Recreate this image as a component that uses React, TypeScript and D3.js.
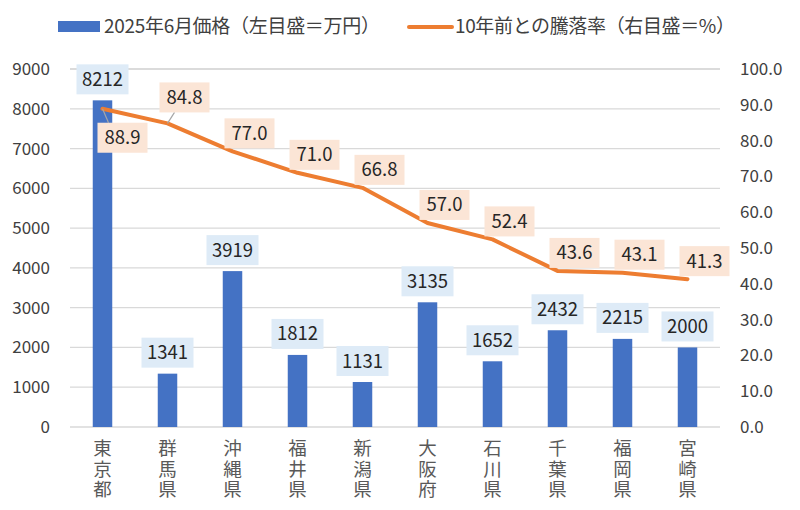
import React from "react";
import * as d3 from "d3";

const prefectures = ["東京都", "群馬県", "沖縄県", "福井県", "新潟県", "大阪府", "石川県", "千葉県", "福岡県", "宮崎県"];
const prices = [8212, 1341, 3919, 1812, 1131, 3135, 1652, 2432, 2215, 2000];
const changeRates = [88.9, 84.8, 77.0, 71.0, 66.8, 57.0, 52.4, 43.6, 43.1, 41.3];
const leftTicks = [0, 1000, 2000, 3000, 4000, 5000, 6000, 7000, 8000, 9000];
const rightTicks = [0, 10, 20, 30, 40, 50, 60, 70, 80, 90, 100];

const W = 800;
const H = 510;
const FONT = "'Noto Sans CJK JP', 'Noto Sans', sans-serif";

export default function App() {
  const x = d3.scaleBand<string>().domain(prefectures).range([70, 720]).paddingInner(0.7).paddingOuter(0.35);
  const yL = d3.scaleLinear().domain([0, 9000]).range([427, 69]);
  const yR = d3.scaleLinear().domain([0, 100]).range([427, 69]);
  const cx = (p: string) => (x(p) as number) + x.bandwidth() / 2;

  const line = d3
    .line<number>()
    .x((_, i) => cx(prefectures[i]))
    .y((d) => yR(d));

  return (
    <svg width={W} height={H} style={{ position: "absolute", left: 0, top: 0 }} fontFamily={FONT}>
      <rect width={W} height={H} fill="#fff" />

      {/* legend */}
      <rect x={58} y={21} width={42} height={11} fill="#4472c4" />
      <text x={104} y={33} fontSize={19} fill="#404040" textLength={276} lengthAdjust="spacing">2025年6月価格（左目盛＝万円）</text>
      <line x1={409} x2={452} y1={27} y2={27} stroke="#ed7d31" strokeWidth={4} strokeLinecap="round" />
      <text x={455} y={33} fontSize={19} fill="#404040" textLength={280} lengthAdjust="spacing">10年前との騰落率（右目盛＝%）</text>

      {/* grid */}
      {leftTicks.map((t) => (
        <line key={t} x1={70} x2={720} y1={yL(t)} y2={yL(t)} stroke="#d9d9d9" strokeWidth={1.3} />
      ))}
      <line x1={70} x2={720} y1={yR(100)} y2={yR(100)} stroke="#d9d9d9" strokeWidth={1.3} />

      {/* axis labels */}
      {leftTicks.map((t) => (
        <text key={t} x={50} y={yL(t) + 6} fontSize={17} fill="#404040" textAnchor="end">{t}</text>
      ))}
      {rightTicks.map((t) => (
        <text key={t} x={740} y={yR(t) + 6} fontSize={17} fill="#404040">{t.toFixed(1)}</text>
      ))}
      {prefectures.map((p) => (
        <text
          key={p}
          x={cx(p)}
          y={439}
          fontSize={18.5}
          fill="#595959"
          letterSpacing={2}
          style={{ writingMode: "vertical-rl", textOrientation: "upright" }}
        >
          {p}
        </text>
      ))}

      {/* bars */}
      {prices.map((v, i) => (
        <rect key={i} x={x(prefectures[i])} y={yL(v)} width={x.bandwidth()} height={yL(0) - yL(v)} fill="#4472c4" />
      ))}

      {/* bar labels */}
      {prices.map((v, i) => {
        const bx = cx(prefectures[i]);
        const by = yL(v) - 21;
        return (
          <g key={i}>
            <rect x={bx - 26} y={by - 15} width={52} height={30} fill="#deebf7" />
            <text x={bx} y={by + 6.5} fontSize={18.5} fill="#262626" textAnchor="middle">{v}</text>
          </g>
        );
      })}

      {/* line */}
      <path d={line(changeRates) ?? ""} fill="none" stroke="#ed7d31" strokeWidth={4} strokeLinejoin="round" strokeLinecap="round" />

      {/* line labels */}
      {changeRates.map((v, i) => {
        const px = cx(prefectures[i]);
        const py = yR(v);
        const below = i === 0;
        const lx = px + (below ? 20 : 17);
        const ly = py + (below ? 29 : i === 1 ? -26 : -18);
        return (
          <g key={i}>
            {below && <line x1={px} y1={py} x2={lx - 14} y2={ly - 15} stroke="#a6a6a6" strokeWidth={1.2} />}
            {i === 1 && <line x1={px} y1={py} x2={lx - 10} y2={ly + 15} stroke="#a6a6a6" strokeWidth={1.2} />}
            <rect x={lx - 25} y={ly - 15} width={50} height={30} fill="#fbe5d6" />
            <text x={lx} y={ly + 6.5} fontSize={18.5} fill="#262626" textAnchor="middle">{v.toFixed(1)}</text>
          </g>
        );
      })}
    </svg>
  );
}
